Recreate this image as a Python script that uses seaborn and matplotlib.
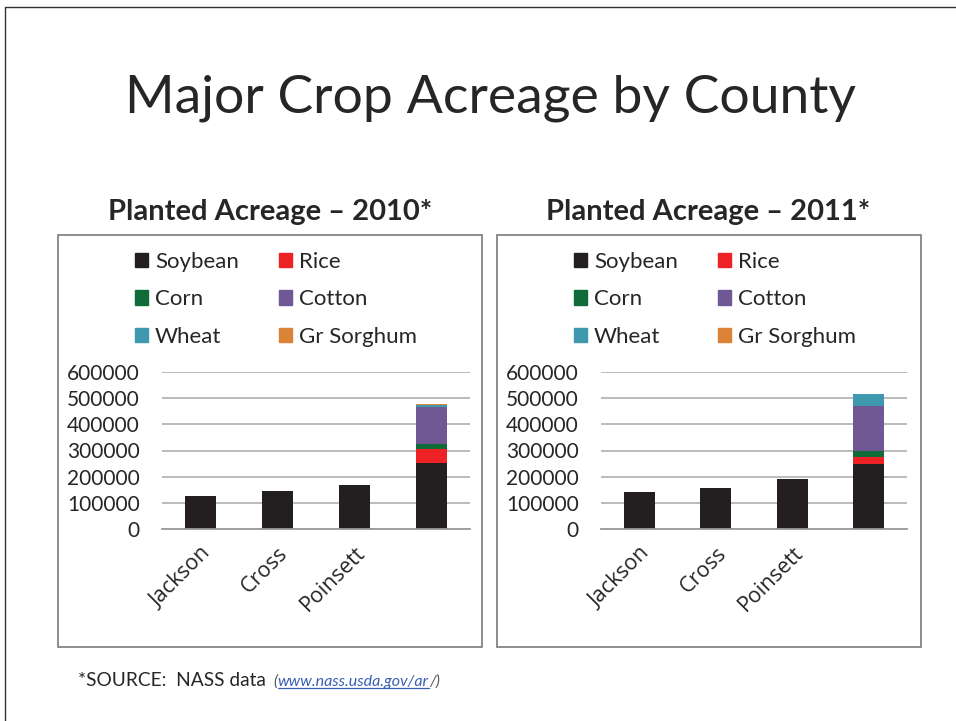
import matplotlib
matplotlib.use("Agg")
import matplotlib.pyplot as plt
import matplotlib.patches as mpatches
import matplotlib.lines as mlines
import numpy as np
import pandas as pd
import seaborn as sns

# Data
counties = ["Jackson", "Cross", "Poinsett", ""]
crops = ["Soybean", "Rice", "Corn", "Cotton", "Wheat", "Gr Sorghum"]
crop_colors = ["#231f20", "#ed2224", "#0f6b37", "#6f5893", "#3e98ae", "#db8437"]

soybean_2010 = [128000, 147000, 170000, 251000]
rice_2010 = [0, 0, 0, 53000]
corn_2010 = [0, 0, 0, 21000]
cotton_2010 = [0, 0, 0, 141000]
wheat_2010 = [0, 0, 0, 7000]
sorghum_2010 = [0, 0, 0, 6000]

soybean_2011 = [142000, 158000, 192000, 248000]
rice_2011 = [0, 0, 0, 26000]
corn_2011 = [0, 0, 0, 24000]
cotton_2011 = [0, 0, 0, 172000]
wheat_2011 = [0, 0, 0, 46000]
sorghum_2011 = [0, 0, 0, 0]

y_ticks = [0, 100000, 200000, 300000, 400000, 500000, 600000]

sns.set_style("white")
plt.rcParams["font.family"] = ["Lato", "DejaVu Sans"]
TXT = "#262626"

W, H = 956, 721
fig = plt.figure(figsize=(W / 100, H / 100), dpi=100)


def fx(x):
    return x / W


def fy(y):
    return 1 - y / H


def draw_chart(ax, series):
    df = pd.DataFrame(series, index=counties)
    bottom = np.zeros(len(counties))
    for crop, color in zip(crops, crop_colors):
        part = pd.DataFrame({"county": counties, "acres": df[crop].values})
        sns.barplot(data=part, x="county", y="acres", order=counties, color=color,
                    saturation=1, width=0.4, linewidth=0, errorbar=None,
                    bottom=bottom, ax=ax)
        bottom = bottom + df[crop].values
    ax.set_xlabel("")
    ax.set_ylabel("")
    ax.set_xlim(-0.5, len(counties) - 0.5)
    ax.set_ylim(0, 600000)
    ax.set_yticks(y_ticks)
    ax.set_yticklabels([str(v) for v in y_ticks])
    ax.yaxis.grid(True, color="#b5b5b5", lw=1.3)
    ax.set_axisbelow(True)
    for s in ["top", "left", "right"]:
        ax.spines[s].set_visible(False)
    ax.spines["bottom"].set_color("#9a9a9a")
    ax.spines["bottom"].set_linewidth(1.3)
    ax.tick_params(axis="y", length=0, pad=16, labelsize=15, labelcolor=TXT)
    ax.set_xticks(range(len(counties)))
    ax.set_xticklabels(counties, rotation=45, ha="right", va="top",
                       rotation_mode="anchor", fontfamily="Open Sans",
                       fontsize=15.5, color=TXT)
    ax.tick_params(axis="x", length=0, pad=10)
    ax.set_xticks([len(counties) - 0.5], minor=True)
    ax.tick_params(axis="x", which="minor", length=5, color="#9a9a9a", width=1.2)


data_2010 = {"Soybean": soybean_2010, "Rice": rice_2010, "Corn": corn_2010,
             "Cotton": cotton_2010, "Wheat": wheat_2010, "Gr Sorghum": sorghum_2010}
data_2011 = {"Soybean": soybean_2011, "Rice": rice_2011, "Corn": corn_2011,
             "Cotton": cotton_2011, "Wheat": wheat_2011, "Gr Sorghum": sorghum_2011}

ax1 = fig.add_axes([fx(162), fy(529), 308 / W, 157 / H])
draw_chart(ax1, data_2010)
ax2 = fig.add_axes([fx(601), fy(529), 306 / W, 157 / H])
draw_chart(ax2, data_2011)

# chart boxes and slide border
for x0 in [58, 497]:
    fig.patches.append(mpatches.Rectangle((fx(x0), fy(647)), 424 / W, 412 / H,
                                          transform=fig.transFigure, fill=False,
                                          ec="#7a7a7a", lw=1.2))
fig.add_artist(mlines.Line2D([fx(5), fx(956)], [fy(7), fy(7)], color="#333333", lw=1))
fig.add_artist(mlines.Line2D([fx(5), fx(5)], [fy(7), fy(721)], color="#333333", lw=1))

# legends (column-major order for 2 columns)
leg_order = ["Soybean", "Corn", "Wheat", "Rice", "Cotton", "Gr Sorghum"]
handles = [mpatches.Patch(color=crop_colors[crops.index(c)]) for c in leg_order]
for x0 in [135, 574]:
    fig.legend(handles, leg_order, loc="upper left", bbox_to_anchor=(fx(x0), fy(252)),
               ncol=2, frameon=False, fontsize=16, handlelength=0.6, handleheight=0.6,
               handletextpad=0.3, labelspacing=0.78, columnspacing=1.8,
               borderpad=0, borderaxespad=0, labelcolor=TXT)

# titles
fig.text(fx(491), fy(98), "Major Crop Acreage by County", ha="center", va="center",
         fontsize=38.5, color=TXT)
fig.text(fx(270), fy(212), "Planted Acreage \u2013 2010*", ha="center", va="center",
         fontsize=21, fontweight="bold", color=TXT)
fig.text(fx(708), fy(212), "Planted Acreage \u2013 2011*", ha="center", va="center",
         fontsize=21, fontweight="bold", color=TXT)

# footnote with link
fig.canvas.draw()
r = fig.canvas.get_renderer()
t1 = fig.text(fx(78), fy(686), "*SOURCE:  NASS data ", fontsize=13.8, va="baseline", color=TXT)
x = t1.get_window_extent(r).x1 + 3
t2 = fig.text(x / W, fy(686), "(", fontsize=11.5, style="italic", va="baseline", color="#555555")
x = t2.get_window_extent(r).x1
t3 = fig.text(x / W, fy(686), "www.nass.usda.gov/ar", fontsize=11.5, style="italic",
              va="baseline", color="#3a5fb5")
e3 = t3.get_window_extent(r)
fig.add_artist(mlines.Line2D([e3.x0 / W, e3.x1 / W], [fy(688), fy(688)],
                             color="#3a5fb5", lw=0.9))
fig.text(e3.x1 / W, fy(686), "/)", fontsize=11.5, style="italic", va="baseline", color="#555555")

fig.savefig("out.png", dpi=100)
